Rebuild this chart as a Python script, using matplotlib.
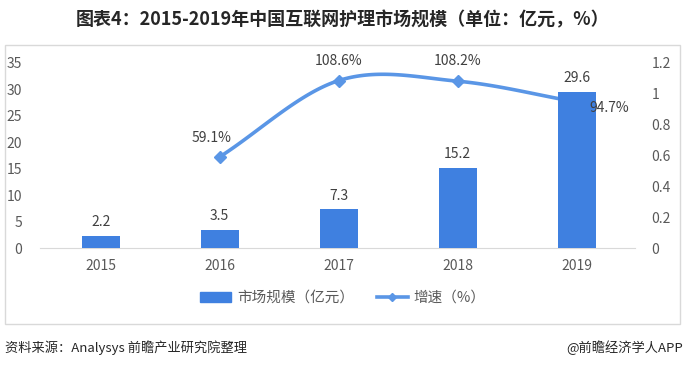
import numpy as np
import matplotlib
matplotlib.use("Agg")
import matplotlib.pyplot as plt
from matplotlib.lines import Line2D
from matplotlib.patches import Patch, Rectangle

plt.rcParams['font.family'] = ['Noto Sans CJK SC', 'DejaVu Sans']

# dados
anos = ['2015', '2016', '2017', '2018', '2019']
mercado = [2.2, 3.5, 7.3, 15.2, 29.6]          # 亿元
crescimento = [None, 0.591, 1.086, 1.082, 0.947]
crescimento_labels = ['', '59.1%', '108.6%', '108.2%', '94.7%']

cor_barra = '#3F80E0'
cor_linha = '#5A96E6'
cinza = '#595959'


def catmull_rom(xs, ys, n=40):
    # curva suave entre os pontos (como a linha "smooth" do Excel)
    xs = np.asarray(xs, float)
    ys = np.asarray(ys, float)
    px = np.concatenate([[2 * xs[0] - xs[1]], xs, [2 * xs[-1] - xs[-2]]])
    py = np.concatenate([[2 * ys[0] - ys[1]], ys, [2 * ys[-1] - ys[-2]]])
    out_x, out_y = [], []
    for i in range(1, len(px) - 2):
        t = np.linspace(0, 1, n)
        for p, out in ((px, out_x), (py, out_y)):
            p0, p1, p2, p3 = p[i - 1], p[i], p[i + 1], p[i + 2]
            out.extend(0.5 * ((2 * p1) + (-p0 + p2) * t
                              + (2 * p0 - 5 * p1 + 4 * p2 - p3) * t ** 2
                              + (-p0 + 3 * p1 - 3 * p2 + p3) * t ** 3))
    return np.array(out_x), np.array(out_y)


fig = plt.figure(figsize=(6.86, 3.68), dpi=100)

# moldura
fig.patches.append(Rectangle((5 / 686, 1 - 324 / 368), 675 / 686, 279 / 368,
                             transform=fig.transFigure, fill=False,
                             edgecolor='#D9D9D9', linewidth=1))

ax = fig.add_axes([40 / 686, 120 / 368, 595 / 686, 185 / 368])
ax2 = ax.twinx()

x = np.arange(len(anos))
ax.bar(x, mercado, width=0.32, color=cor_barra, zorder=3)
for xi, v in zip(x, mercado):
    ax.text(xi, v + 1.3, f'{v:.1f}', ha='center', va='bottom', fontsize=10, color='#404040')

xl = [i for i, v in enumerate(crescimento) if v is not None]
yl = [v for v in crescimento if v is not None]
sx, sy = catmull_rom(xl, yl)
ax2.plot(sx, sy, color=cor_linha, linewidth=2.6, solid_capstyle='round')
ax2.plot(xl, yl, 'D', color=cor_linha, markersize=6)

# barras por cima da linha
ax.set_zorder(ax2.get_zorder() + 1)
ax.patch.set_visible(False)

offsets = {1: (-0.07, 0.12), 2: (0, 0.13), 3: (0, 0.13), 4: (0.27, -0.04)}
for i, off in offsets.items():
    ax.annotate(crescimento_labels[i], (x[i] + off[0], crescimento[i] + off[1]),
                xycoords=ax2.transData, ha='center', va='center',
                fontsize=10, color='#404040', zorder=5)

ax.set_xlim(-0.51, 4.49)
ax.set_ylim(0, 35)
ax2.set_ylim(0, 1.2)
ax.set_yticks(range(0, 36, 5))
ax2.set_yticks([0, 0.2, 0.4, 0.6, 0.8, 1.0, 1.2])
ax2.set_yticklabels(['0', '0.2', '0.4', '0.6', '0.8', '1', '1.2'])
ax.set_xticks(x)
ax.set_xticklabels(anos)

for a in (ax, ax2):
    for s in a.spines.values():
        s.set_visible(False)
    a.tick_params(length=0, labelsize=10, colors=cinza)
ax.spines['bottom'].set_visible(True)
ax.spines['bottom'].set_color('#D9D9D9')
ax.tick_params(axis='y', pad=13)
ax2.tick_params(axis='y', pad=12)
ax.tick_params(axis='x', pad=8)

handles = [Patch(color=cor_barra),
           Line2D([0], [0], color=cor_linha, linewidth=2.6, marker='D', markersize=4)]
fig.legend(handles, ['市场规模（亿元）', '增速（%）'], loc='center',
           bbox_to_anchor=(0.5, 1 - 298 / 368), ncol=2, frameon=False,
           fontsize=10.5, handlelength=2.1, handletextpad=0.4,
           columnspacing=1.6, labelcolor=cinza)

fig.text(0.5, 1 - 20 / 368, '图表4：2015-2019年中国互联网护理市场规模（单位：亿元，%）',
         ha='center', va='center', fontsize=13, fontweight='bold', color='#262626')
fig.text(5 / 686, 1 - 348 / 368, '资料来源：Analysys 前瞻产业研究院整理',
         ha='left', va='center', fontsize=9.5, color='#262626')
fig.text(683 / 686, 1 - 348 / 368, '@前瞻经济学人APP',
         ha='right', va='center', fontsize=9.5, color='#262626')

fig.savefig('out.png', dpi=100)
